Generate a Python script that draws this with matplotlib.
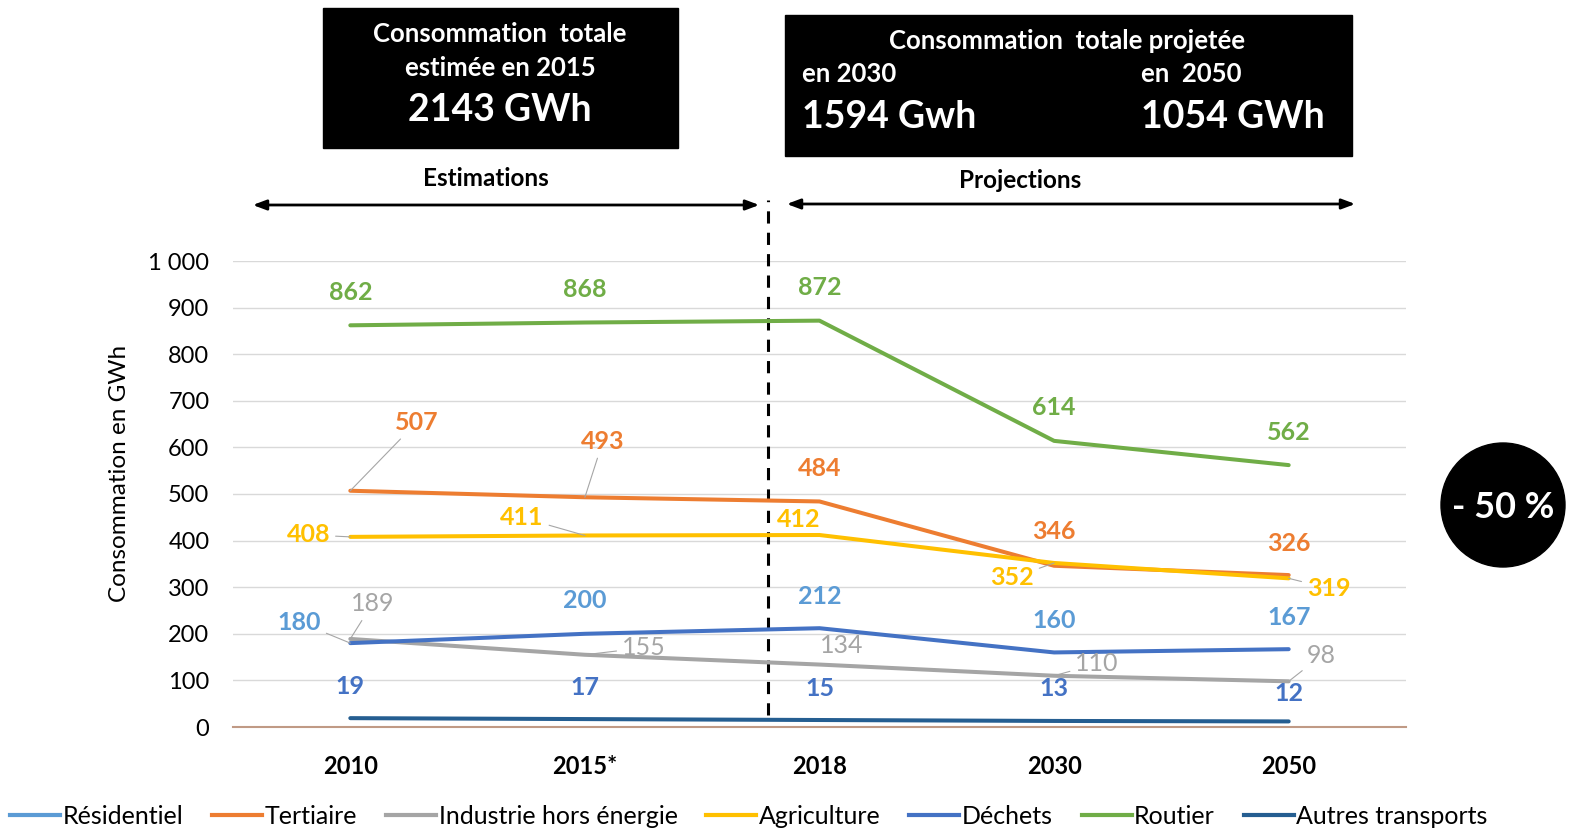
import matplotlib.pyplot as plt
from matplotlib.lines import Line2D
from matplotlib.patches import Rectangle, Circle

plt.rcParams['font.family'] = ['Liberation Sans Narrow', 'Lato', 'DejaVu Sans']

annees = ['2010', '2015*', '2018', '2030', '2050']

residentiel = [180, 200, 212, 160, 167]
tertiaire = [507, 493, 484, 346, 326]
industrie = [189, 155, 134, 110, 98]
agriculture = [408, 411, 412, 352, 319]
dechets = [19, 17, 15, 13, 12]
routier = [862, 868, 872, 614, 562]

noms_legende = ['Résidentiel', 'Tertiaire', 'Industrie hors énergie', 'Agriculture',
                'Déchets', 'Routier', 'Autres transports']
couleurs_legende = ['#5B9BD5', '#ED7D31', '#A5A5A5', '#FFC000', '#4472C4', '#70AD47', '#255E91']

W, H = 1579, 836
fig = plt.figure(figsize=(W / 100, H / 100), dpi=100)
ax = fig.add_axes([233 / W, 1 - 727 / H, (1406 - 233) / W, (727 - 261) / H])

x = range(len(annees))

# (valeurs, couleur ligne, couleur etiquette, gras, decalages des etiquettes en pixels, ligne de rappel)
series = [
    (dechets, '#255E91', '#4472C4', True,
     [(0, 32), (0, 32), (0, 32), (0, 32), (0, 28)], [False] * 5),
    (industrie, '#A5A5A5', '#A5A5A5', False,
     [(22, 35), (59, 7), (22, 19), (43, 12), (33, 26)], [True, True, False, True, True]),
    (residentiel, '#4472C4', '#5B9BD5', True,
     [(-51, 21), (0, 33), (0, 32), (0, 32), (0, 32)], [True, False, False, False, False]),
    (tertiaire, '#ED7D31', '#ED7D31', True,
     [(66, 68), (18, 56), (0, 33), (0, 34), (0, 32)], [True, True, False, False, False]),
    (agriculture, '#FFC000', '#FFC000', True,
     [(-42, 2), (-63, 18), (-21, 16), (-42, -15), (40, -10)], [True, True, False, True, True]),
    (routier, '#70AD47', '#70AD47', True,
     [(0, 33)] * 5, [False] * 5),
]

for vals, c_line, c_lab, gras, offs, rappel in series:
    ax.plot(x, vals, color=c_line, lw=2.9, solid_capstyle='round', zorder=3)
    for i, v in enumerate(vals):
        ap = None
        if rappel[i]:
            ap = dict(arrowstyle='-', color='#A6A6A6', lw=0.8, shrinkA=2, shrinkB=0)
        ax.annotate(str(v), xy=(i, v), xytext=offs[i], textcoords='offset pixels',
                    ha='center', va='center', fontsize=18, color=c_lab,
                    fontweight='bold' if gras else 'normal', arrowprops=ap, zorder=5)

ax.set_xlim(-0.5, 4.5)
ax.set_ylim(0, 1000)
ax.set_yticks(range(0, 1001, 100))
ax.set_yticklabels(['0', '100', '200', '300', '400', '500', '600', '700', '800', '900', '1 000'])
ax.set_xticks(list(x))
ax.set_xticklabels(annees, fontweight='bold')
ax.tick_params(axis='y', length=0, pad=17, labelsize=17)
ax.tick_params(axis='x', length=0, pad=20, labelsize=17)
ax.grid(axis='y', color='#D9D9D9', lw=1)
ax.set_axisbelow(True)
for s in ['top', 'left', 'right']:
    ax.spines[s].set_visible(False)
ax.spines['bottom'].set_color('#C09A85')
ax.spines['bottom'].set_linewidth(1.5)

# separation estimations / projections
ax.axvline(1.78, ymin=0.026, ymax=1.131, color='black', lw=2.2, ls=(0, (4, 3)), clip_on=False)


def fx(px):
    return px / W


def fy(py):
    return 1 - py / H


fig.text(fx(120), fy(473), 'Consommation en GWh', rotation=90, ha='center', va='center', fontsize=17.5)

# fleches
for x0, x1, y in [(250, 762, 205), (784, 1358, 204)]:
    ax.annotate('', xy=(fx(x1), fy(y)), xytext=(fx(x0), fy(y)), xycoords='figure fraction',
                arrowprops=dict(arrowstyle='<|-|>,head_length=0.8,head_width=0.3', color='black', lw=2))
fig.text(fx(486), fy(179), 'Estimations', ha='center', va='center', fontsize=17.5, fontweight='bold')
fig.text(fx(1020), fy(181), 'Projections', ha='center', va='center', fontsize=17.5, fontweight='bold')

# encadres
fig.patches.append(Rectangle((fx(323), fy(148)), 355 / W, 140 / H, transform=fig.transFigure,
                             color='black', zorder=0))
fig.patches.append(Rectangle((fx(785), fy(156)), 567 / W, 141 / H, transform=fig.transFigure,
                             color='black', zorder=0))
fig.text(fx(500), fy(34), 'Consommation  totale', ha='center', va='center', color='white',
         fontsize=18.5, fontweight='bold')
fig.text(fx(500), fy(68), 'estimée en 2015', ha='center', va='center', color='white',
         fontsize=18.5, fontweight='bold')
fig.text(fx(500), fy(110), '2143 GWh', ha='center', va='center', color='white',
         fontsize=27, fontweight='bold')
fig.text(fx(1067), fy(41), 'Consommation  totale projetée', ha='center', va='center', color='white',
         fontsize=18.5, fontweight='bold')
fig.text(fx(802), fy(74), 'en 2030', ha='left', va='center', color='white', fontsize=18.5, fontweight='bold')
fig.text(fx(1141), fy(74), 'en  2050', ha='left', va='center', color='white', fontsize=18.5, fontweight='bold')
fig.text(fx(802), fy(117), '1594 Gwh', ha='left', va='center', color='white', fontsize=27, fontweight='bold')
fig.text(fx(1141), fy(117), '1054 GWh', ha='left', va='center', color='white', fontsize=27, fontweight='bold')

# pastille -50 %
fig.patches.append(Circle((15.03, (H - 505) / 100), 0.62, transform=fig.dpi_scale_trans, color='black'))
fig.text(fx(1503), fy(507), '- 50 %', ha='center', va='center', color='white', fontsize=26, fontweight='bold')

handles = [Line2D([], [], color=c, lw=3) for c in couleurs_legende]
fig.legend(handles, noms_legende, loc='center', bbox_to_anchor=(fx(749), fy(816)), ncol=7,
           frameon=False, fontsize=18, handlelength=2.0, handletextpad=0.1, columnspacing=1.15)

fig.savefig('out.png', dpi=100)
